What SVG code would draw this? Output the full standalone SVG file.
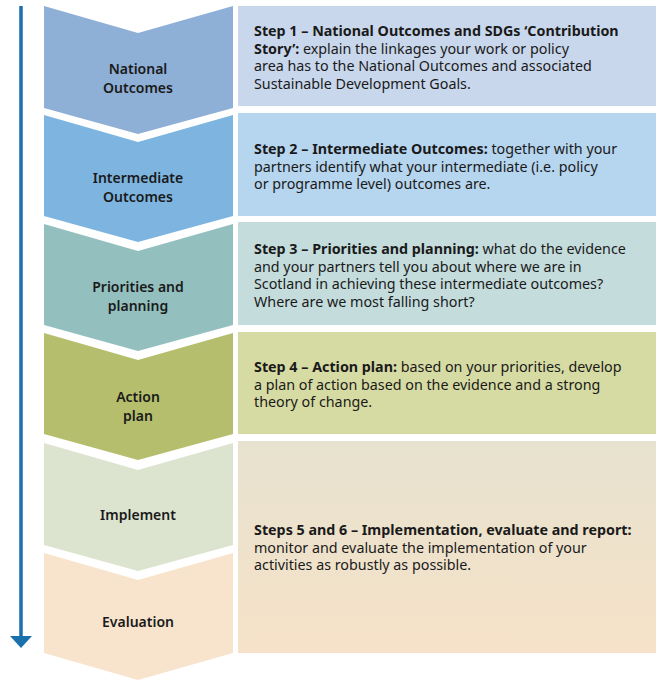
<svg xmlns="http://www.w3.org/2000/svg" width="661" height="690" viewBox="0 0 661 690">
<style>
text{font-family:"Noto Sans","Open Sans",sans-serif;font-size:14.3px;fill:#1a1a1a}
.c{text-anchor:middle;font-size:14px;font-weight:600}
.b{font-weight:bold}
</style>
<defs>
<linearGradient id="g5" x1="0" y1="0" x2="0" y2="1"><stop offset="0" stop-color="#e7e2cf"/><stop offset="1" stop-color="#f6e2c8"/></linearGradient>
</defs>
<g id="connectors">
<line x1="21" y1="6" x2="21" y2="636" stroke="#1a6fad" stroke-width="3.5"/>
<path d="M10,636 L32,636 L21,648 z" fill="#1a6fad"/>
</g>
<g id="n1"><path d="M44,6 L138,33 L233,6 L233,108 L138,134 L44,108 z" fill="#8eafd6"/>
<text class="c" x="138" y="74">National</text><text class="c" x="138" y="93">Outcomes</text></g>
<g id="n2"><path d="M44,115 L138,142 L233,115 L233,216 L138,242 L44,216 z" fill="#7db5e0"/>
<text class="c" x="138" y="183">Intermediate</text><text class="c" x="138" y="202">Outcomes</text></g>
<g id="n3"><path d="M44,224 L138,251 L233,224 L233,325 L138,351 L44,325 z" fill="#93bfbf"/>
<text class="c" x="138" y="292">Priorities and</text><text class="c" x="138" y="311">planning</text></g>
<g id="n4"><path d="M44,333 L138,360 L233,333 L233,434 L138,460 L44,434 z" fill="#b5be6c"/>
<text class="c" x="138" y="402">Action</text><text class="c" x="138" y="421">plan</text></g>
<g id="n5"><path d="M44,443 L138,470 L233,443 L233,545 L138,571 L44,545 z" fill="#dce3cf"/>
<text class="c" x="138" y="520">Implement</text></g>
<g id="n6"><path d="M44,553 L138,580 L233,553 L233,653 L138,680 L44,653 z" fill="#f8e4cc"/>
<text class="c" x="138" y="627">Evaluation</text></g>
<g id="s1"><rect x="238" y="6" width="418" height="100" fill="#c9d7ec"/>
<text x="254" y="36"><tspan class="b">Step 1 – National Outcomes and SDGs ‘Contribution</tspan><tspan x="254" dy="17.5" class="b">Story’:</tspan> explain the linkages your work or policy<tspan x="254" dy="17.5">area has to the National Outcomes and associated</tspan><tspan x="254" dy="17.5">Sustainable Development Goals.</tspan></text></g>
<g id="s2"><rect x="238" y="113" width="418" height="103" fill="#b6d5ef"/>
<text x="254" y="154"><tspan class="b">Step 2 – Intermediate Outcomes:</tspan> together with your<tspan x="254" dy="17.5">partners identify what your intermediate (i.e. policy</tspan><tspan x="254" dy="17.5">or programme level) outcomes are.</tspan></text></g>
<g id="s3"><rect x="238" y="222" width="418" height="103" fill="#c4dcdc"/>
<text x="254" y="254"><tspan class="b">Step 3 – Priorities and planning:</tspan> what do the evidence<tspan x="254" dy="17.5">and your partners tell you about where we are in</tspan><tspan x="254" dy="17.5">Scotland in achieving these intermediate outcomes?</tspan><tspan x="254" dy="17.5">Where are we most falling short?</tspan></text></g>
<g id="s4"><rect x="238" y="332" width="418" height="102" fill="#d6dba3"/>
<text x="254" y="372"><tspan class="b">Step 4 – Action plan:</tspan> based on your priorities, develop<tspan x="254" dy="17.5">a plan of action based on the evidence and a strong</tspan><tspan x="254" dy="17.5">theory of change.</tspan></text></g>
<g id="s5"><rect x="238" y="441" width="418" height="212" fill="url(#g5)"/>
<text x="254" y="535"><tspan class="b">Steps 5 and 6 – Implementation, evaluate and report:</tspan><tspan x="254" dy="17.5">monitor and evaluate the implementation of your</tspan><tspan x="254" dy="17.5">activities as robustly as possible.</tspan></text></g>
</svg>
